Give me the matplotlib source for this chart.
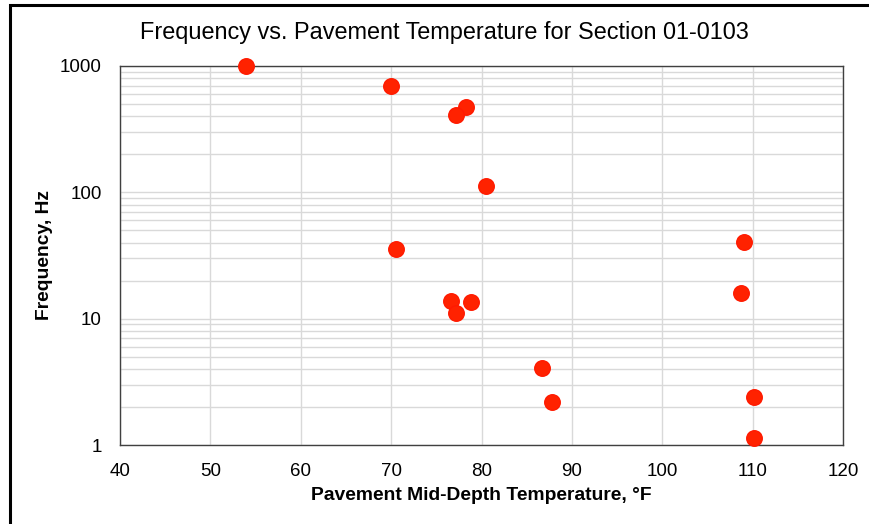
import matplotlib
matplotlib.use("Agg")
import matplotlib.pyplot as plt
from matplotlib.patches import Rectangle
from matplotlib.ticker import LogLocator, NullFormatter

plt.rcParams['font.family'] = ['Liberation Sans', 'DejaVu Sans']

temperature_f = [53.9, 70.0, 78.3, 77.2, 80.5, 70.5, 109.1, 108.7, 76.6, 78.8, 77.2, 86.7, 87.8, 110.2, 110.2]
frequency_hz = [1000, 690, 470, 410, 112, 35.3, 40.8, 16.1, 13.9, 13.6, 11.0, 4.1, 2.2, 2.4, 1.13]

x_ticks = [40, 50, 60, 70, 80, 90, 100, 110, 120]
y_ticks = [1, 10, 100, 1000]
y_tick_labels = ["1", "10", "100", "1000"]

title = "Frequency vs. Pavement Temperature for Section 01-0103"
x_label = "Pavement Mid-Depth Temperature, °F"
y_label = "Frequency, Hz"

fig = plt.figure(figsize=(8.70, 5.24), dpi=100)
W, H = 870, 524
ax = fig.add_axes([120 / W, 1 - 445 / H, (843 - 120) / W, (445 - 66) / H])

ax.set_yscale('log')
ax.set_xlim(40, 120)
ax.set_ylim(1, 1000)
ax.set_xticks(x_ticks)
ax.set_xticklabels([str(v) for v in x_ticks])
ax.set_yticks(y_ticks)
ax.set_yticklabels(y_tick_labels)
ax.yaxis.set_minor_locator(LogLocator(base=10, subs=range(2, 10)))
ax.yaxis.set_minor_formatter(NullFormatter())

ax.grid(True, which='major', axis='both', color='#d9d9d9', linewidth=1.0)
ax.grid(True, which='minor', axis='y', color='#d9d9d9', linewidth=1.0)
ax.set_axisbelow(True)

ax.tick_params(axis='both', which='both', length=0, labelsize=13.5, colors='#000000')
ax.tick_params(axis='y', pad=13)
ax.tick_params(axis='x', pad=13)

for s in ax.spines.values():
    s.set_color('#404040')
    s.set_linewidth(1.0)

ax.scatter(temperature_f, frequency_hz, s=125, facecolor='#ff2200', edgecolor='#ff1a00',
           linewidth=1.0, zorder=3, clip_on=False)

ax.set_xlabel(x_label, fontsize=13.9, fontweight='bold', labelpad=5)
ax.set_ylabel(y_label, fontsize=13.9, fontweight='bold', labelpad=5)
fig.text(444 / W, 1 - 32 / H, title, fontsize=16.9, ha='center', va='center')

fig.patches.append(Rectangle((10 / W, -0.1), 1.2, 1 - 5 / H + 0.1, transform=fig.transFigure,
                             fill=False, edgecolor='black', linewidth=2.2, zorder=10))

fig.savefig("out.png", dpi=100)
